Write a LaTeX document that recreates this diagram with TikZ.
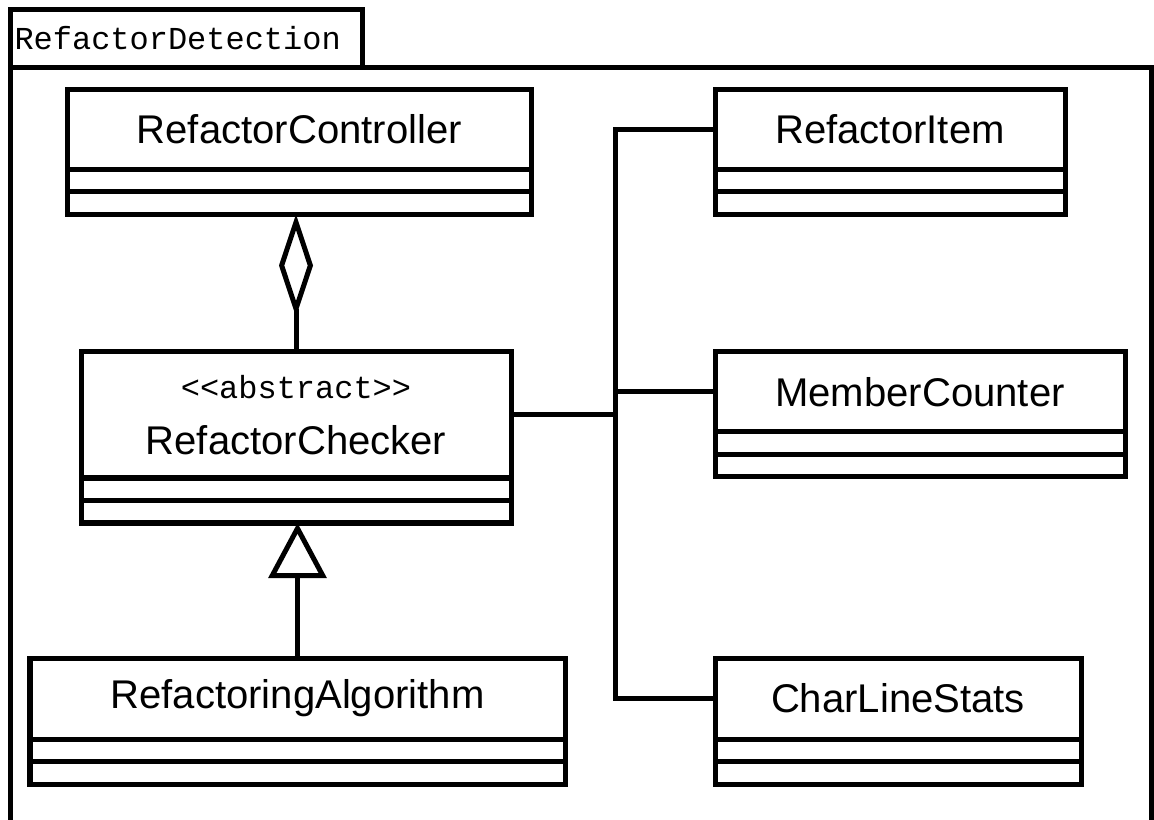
\documentclass[tikz,border=0pt]{standalone}
\usepackage{fontspec}
\setmainfont{Liberation Sans}
\setmonofont{Liberation Mono}
\usetikzlibrary{positioning,arrows.meta}

\begin{document}
\begin{tikzpicture}[
    line width=0.1cm,
    cls/.style={draw, minimum width=#1, minimum height=1.6cm, outer sep=0pt,
      font=\fontsize{22.8}{27}\selectfont},
    comp/.style={draw, minimum width=#1, minimum height=0.45cm, inner sep=0pt, outer sep=0pt},
    tabbox/.style={draw, anchor=north west, outer sep=0pt, minimum height=1.16cm,
      inner xsep=0.08cm, text width=6.88cm, align=left,
      font=\ttfamily\fontsize{18.2}{21}\selectfont},
    aggr/.style={-{Diamond[open,length=2.05cm,width=0.68cm]}},
    gen/.style={-{Triangle[open,length=1.1cm,width=1.15cm]}}
  ]
  \useasboundingbox (0,0) rectangle (23.08,-16.4);
  % package frame
  \node[tabbox] (pkg) at (0.21,-0.19) {RefactorDetection};
  \draw (pkg.south west) rectangle (23.03,-16.8);
  % classes
  \node[cls=9.27cm] (ctrl) at (5.985,-2.585) {RefactorController};
  \node[cls=8.6cm, minimum height=2.52cm, align=center] (chk) at (5.92,-8.3)
    {{\ttfamily\fontsize{18.2}{21}\selectfont <<abstract>>}\\[5pt]RefactorChecker};
  \node[cls=10.7cm, minimum height=1.62cm] (alg) at (5.95,-13.97) {RefactoringAlgorithm};
  \node[cls=7cm] (item) at (17.8,-2.585) {RefactorItem};
  \node[cls=8.2cm] (mcnt) at (18.4,-7.84) {MemberCounter};
  \node[cls=7.32cm, minimum height=1.62cm] (stats) at (17.96,-13.97) {CharLineStats};
  \foreach \c/\w in {ctrl/9.27cm, chk/8.6cm, alg/10.7cm, item/7cm, mcnt/8.2cm, stats/7.32cm} {
    \node[comp=\w, below=0pt of \c] (\c-attr) {};
    \node[comp=\w, below=0pt of \c-attr] (\c-ops) {};
  }
  % links
  \coordinate (jn) at (12.3,-8.3);
  \draw (chk.east) -- (jn);
  \draw (item.west) -| (jn) |- (stats.west);
  \draw (mcnt.west) -- (mcnt.west -| jn);
  \draw[aggr] (chk.north) -- (chk.north |- ctrl-ops.south);
  \draw[gen] (alg.north) -- (alg.north |- chk-ops.south);
\end{tikzpicture}
\end{document}
